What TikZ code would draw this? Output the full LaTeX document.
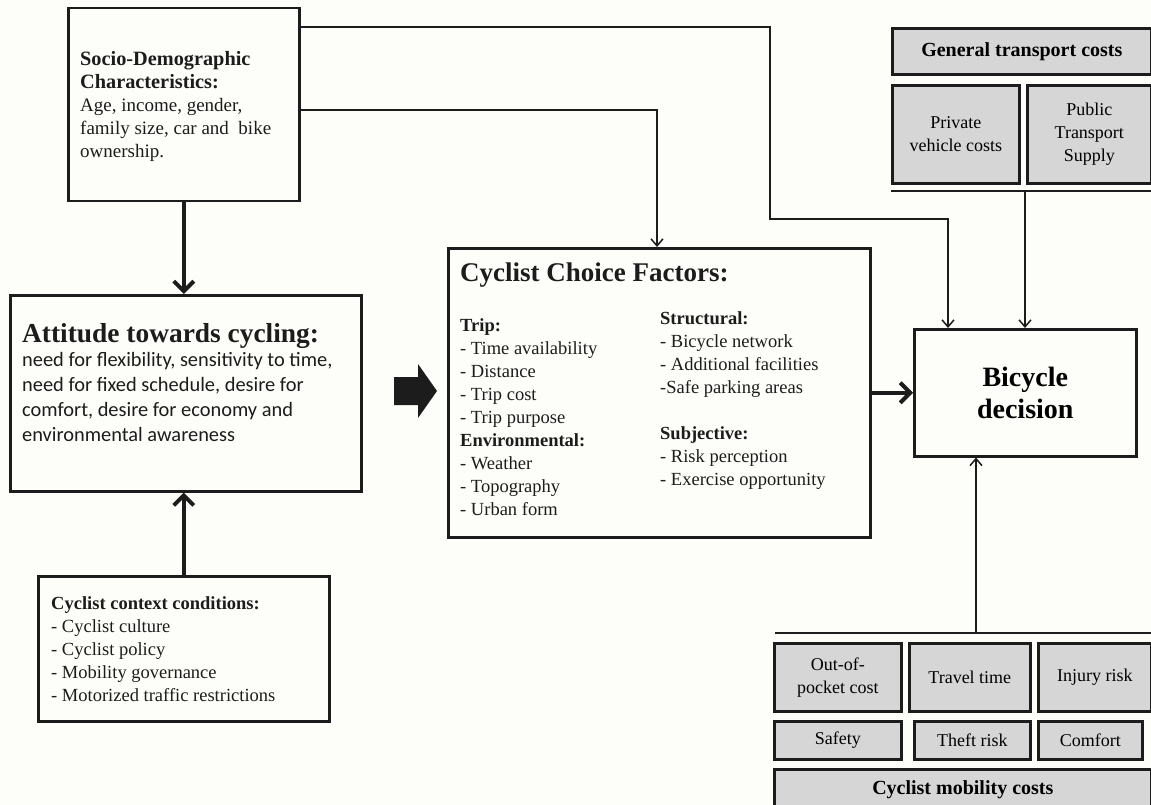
\documentclass[tikz,border=0pt]{standalone}
\usepackage{fontspec}
\setmainfont{Liberation Serif}
\newfontfamily\calib{Carlito}
\usetikzlibrary{arrows.meta,calc}
\definecolor{bg}{RGB}{253,253,249}
\definecolor{boxgray}{RGB}{214,214,214}
\definecolor{ink}{RGB}{28,28,28}
\begin{document}
\begin{tikzpicture}[x=1pt,y=-1pt,
  mainbox/.style={draw=ink, line width=2.5pt, fill=bg, inner sep=0pt, anchor=north west},
  graybox/.style={draw=ink, line width=2.6pt, fill=boxgray, inner sep=0pt, anchor=north west,
    align=center, font=\fontsize{18}{23}\selectfont},
  txt/.style={anchor=base west, align=left, inner sep=0pt, text=ink, font=\fontsize{18.5}{23}\selectfont},
  conn/.style={draw=ink, line width=1.5pt, -{Straight Barb[length=7pt,width=12pt]}},
  bigconn/.style={draw=ink, line width=4pt, -{Straight Barb[length=10pt,width=20pt]}},
  bar/.style={draw=ink, line width=2.6pt}
]
\useasboundingbox (0,0) rectangle (1151,805);
\fill[bg] (0,0) rectangle (1151,805);
\begin{scope}
\clip (0,0) rectangle (1151,805);

% main boxes
\node[mainbox, minimum width=231pt, minimum height=193pt] (socio) at (67,7) {};
\node[mainbox, minimum width=351pt, minimum height=196pt] (att) at (9,294) {};
\node[mainbox, minimum width=291pt, minimum height=145pt] (ctx) at (37,575) {};
\node[mainbox, minimum width=422pt, minimum height=289pt] (choice) at (447,247) {};
\node[mainbox, minimum width=222pt, minimum height=127pt, align=center,
      font=\fontsize{28}{32}\selectfont\bfseries] (bic) at (913,328) {Bicycle\\decision};

% texts (anchor = baseline of the last line)
\node[txt, font=\fontsize{19}{23}\selectfont] (sociotxt) at (80,158)
  {{\fontsize{20.3}{24}\selectfont\bfseries Socio-Demographic}\\{\fontsize{20.3}{24}\selectfont\bfseries Characteristics:}\\Age, income, gender,\\family size, car and\ \ bike\\ownership.};
\node[txt, font=\fontsize{27.4}{30}\selectfont\bfseries] (atttitle) at (22,342) {Attitude towards cycling:};
\node[txt, font=\fontsize{20.4}{25}\calib] (atttxt) at (22,441)
  {need for flexibility, sensitivity to time,\\need for fixed schedule, desire for\\comfort, desire for economy and\\environmental awareness};
\node[txt] (ctxtxt) at (51,701)
  {\textbf{Cyclist context conditions:}\\- Cyclist culture\\- Cyclist policy\\- Mobility governance\\- Motorized traffic restrictions};
\node[txt, font=\fontsize{27}{30}\selectfont\bfseries] (choicetitle) at (460,281) {Cyclist Choice Factors:};
\node[txt] (choiceleft) at (460,515)
  {\textbf{Trip:}\\- Time availability\\- Distance\\- Trip cost\\- Trip purpose\\\textbf{Environmental:}\\- Weather\\- Topography\\- Urban form};
\node[txt] (choiceright) at (660,485)
  {\textbf{Structural:}\\- Bicycle network\\- Additional facilities\\-Safe parking areas\\[23pt]\textbf{Subjective:}\\- Risk perception\\- Exercise opportunity};

% general transport costs group
\node[graybox, minimum width=259pt, minimum height=46pt, font=\fontsize{20}{23}\selectfont\bfseries] (gen) at (891,27) {General transport costs};
\node[graybox, minimum width=127pt, minimum height=98pt] (priv) at (891,84) {Private\\vehicle costs};
\node[graybox, minimum width=124pt, minimum height=98pt] (pub) at (1026,84) {Public\\Transport\\Supply};
\coordinate (barL) at (891,191);
\coordinate (barR) at (1151,191);
\draw[bar] (barL) -- (barR);

% cyclist mobility costs group
\coordinate (bbarL) at (775,633);
\coordinate (bbarR) at (1151,633);
\draw[bar] (bbarL) -- (bbarR);
\node[graybox, minimum width=127pt, minimum height=68pt] (oop) at (773,642) {Out-of-\\pocket cost};
\node[graybox, minimum width=121pt, minimum height=68pt] (travel) at (908,642) {Travel time};
\node[graybox, minimum width=113pt, minimum height=68pt] (injury) at (1037,642) {Injury risk};
\node[graybox, minimum width=127pt, minimum height=38pt] (safety) at (773,720) {Safety};
\node[graybox, minimum width=116pt, minimum height=38pt] (theft) at (913,720) {Theft risk};
\node[graybox, minimum width=104pt, minimum height=38pt] (comfort) at (1037,720) {Comfort};
\node[graybox, minimum width=377pt, minimum height=40pt, font=\fontsize{20}{23}\selectfont\bfseries] (mob) at (773,768) {Cyclist mobility costs};

% block arrow
\fill[ink] (394,377) -- (418,377) -- (418,364) -- (437,391) -- (418,418) -- (418,405) -- (394,405) -- cycle;

% connectors
\coordinate (j1) at (770,219);
\coordinate (j2) at (948,219);
\draw[conn] ($(socio.north east)+(0,20)$) -| (j1) -- (j2) -- (j2 |- bic.north);
\coordinate (c2) at (657,110);
\draw[conn] ($(socio.north east)+(0,103)$) -| (c2 |- choice.north);
\coordinate (tb) at (1025,191);
\draw[conn] (tb) -- (tb |- bic.north);
\coordinate (bb) at (976,633);
\draw[conn] (bb) -- (bb |- bic.south);

\draw[bigconn] (socio.south) -- (socio.south |- att.north);
\draw[bigconn] (ctx.north) -- (ctx.north |- att.south);
\draw[bigconn] (choice.east) -- (choice.east -| bic.west);
\end{scope}
\end{tikzpicture}
\end{document}
